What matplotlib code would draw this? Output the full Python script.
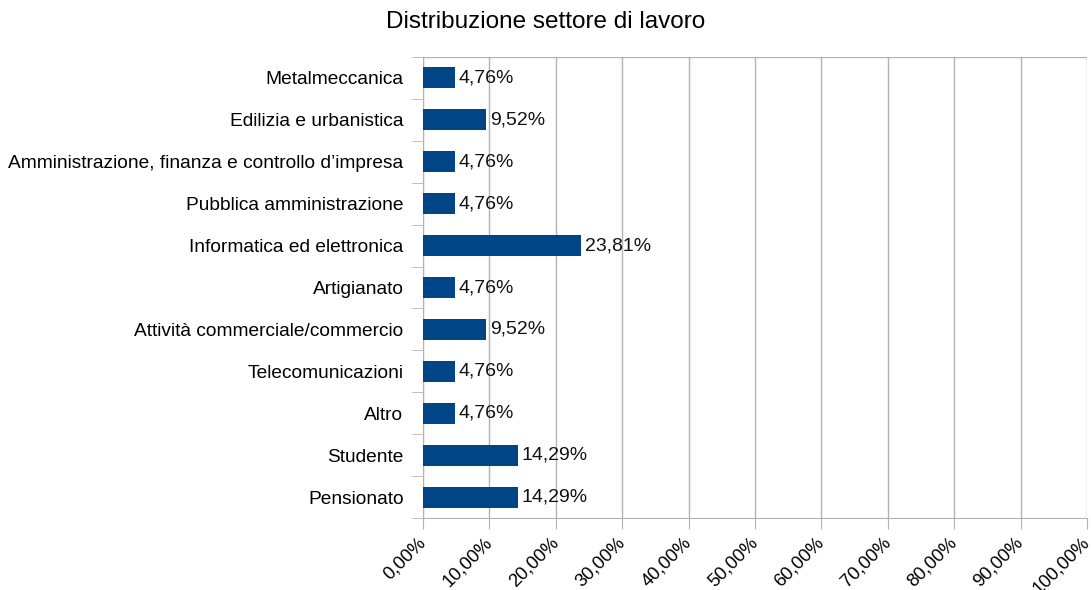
import numpy as np
import matplotlib
matplotlib.use("Agg")
from matplotlib import pyplot as plt
from matplotlib.ticker import FixedLocator

plt.rcParams['font.family'] = ['Liberation Sans', 'DejaVu Sans']

# dati (dall'alto verso il basso)
settori = ["Metalmeccanica", "Edilizia e urbanistica",
           "Amministrazione, finanza e controllo d\u2019impresa",
           "Pubblica amministrazione", "Informatica ed elettronica",
           "Artigianato", "Attivit\u00e0 commerciale/commercio",
           "Telecomunicazioni", "Altro", "Studente", "Pensionato"]
percentuali = [4.76, 9.52, 4.76, 4.76, 23.81, 4.76, 9.52, 4.76, 4.76, 14.29, 14.29]
tick_x = [0, 10, 20, 30, 40, 50, 60, 70, 80, 90, 100]

fig = plt.figure(figsize=(10.91, 5.90), dpi=100)
ax = fig.add_axes([0.3877, 0.122, 0.6086, 0.7814])

n = len(settori)
pos = np.arange(n)
ax.barh(pos, percentuali, height=0.5, color="#004586", zorder=3)
for p, v in zip(pos, percentuali):
    ax.text(v + 0.6, p, ("%.2f" % v).replace(".", ",") + "%", va="center",
            ha="left", fontsize=14, color="#111111", zorder=4)

ax.set_ylim(n - 0.5, -0.5)
ax.set_xlim(0, 100)
ax.set_yticks(pos)
ax.set_yticklabels(settori, fontsize=13.8)
ax.yaxis.set_minor_locator(FixedLocator(np.arange(-0.5, n, 1.0)))
ax.tick_params(axis="y", which="major", length=0, pad=14)
ax.tick_params(axis="y", which="minor", length=8, color="#b3b3b3")

ax.set_xticks(tick_x)
ax.set_xticklabels([("%.2f" % t).replace(".", ",") + "%" for t in tick_x],
                   rotation=45, ha="right", va="center", rotation_mode="anchor", fontsize=13.2)
ax.tick_params(axis="x", length=8, color="#b3b3b3", pad=8)
ax.grid(axis="x", color="#b3b3b3", linewidth=1, zorder=0)

for s in ["top", "right"]:
    ax.spines[s].set_visible(False)
ax.spines["left"].set_color("#b3b3b3")
ax.spines["bottom"].set_color("#b3b3b3")
ax.axhline(-0.5, color="#b3b3b3", linewidth=1, zorder=1)

fig.text(0.5, 0.962, "Distribuzione settore di lavoro", ha="center", va="center", fontsize=17.5)

fig.savefig("out.png", dpi=100)
